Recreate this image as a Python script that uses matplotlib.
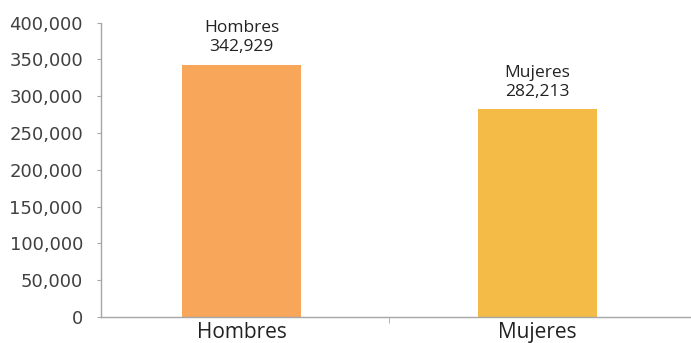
import numpy as np
import matplotlib.pyplot as plt
from matplotlib.ticker import FuncFormatter

# data
categories = ["Hombres", "Mujeres"]
values = [342929, 282213]
colors = ["#F7A65A", "#F4BC46"]

W, H = 691, 343
fig = plt.figure(figsize=(W / 100, H / 100), dpi=100)
ax = fig.add_axes([101 / W, 26 / H, (W - 101) / W, (317 - 22.7) / H])

x = np.arange(len(categories))
ax.bar(x, values, width=0.40, color=colors, zorder=2)

ax.set_ylim(0, 400000)
ax.set_xlim(-0.475, 1.519)
ax.set_yticks(np.arange(0, 400001, 50000))
ax.yaxis.set_major_formatter(FuncFormatter(lambda v, p: f"{int(v):,}"))

for s in ["top", "right"]:
    ax.spines[s].set_visible(False)
for s in ["left", "bottom"]:
    ax.spines[s].set_color("#A6A6A6")
    ax.spines[s].set_linewidth(1.0)

ax.tick_params(axis="y", length=3, color="#A6A6A6", labelsize=13,
               labelcolor="#404040", pad=10)
ax.set_xticks(x)
ax.set_xticklabels(categories, fontsize=15, color="#222222",
                   family=["Open Sans", "DejaVu Sans"])
ax.tick_params(axis="x", length=0, pad=3.5)
ax.set_xticks([0.5], minor=True)
ax.tick_params(axis="x", which="minor", length=4, color="#A6A6A6")

# data labels
for xi, v, name in zip(x, values, categories):
    ax.annotate(f"{name}\n{v:,}", (xi, v), xytext=(0, 7),
                textcoords="offset points", ha="center", va="bottom",
                fontsize=12.5, color="#222222", linespacing=1.25,
                family=["Open Sans", "DejaVu Sans"])

fig.savefig("out.png", dpi=100)
